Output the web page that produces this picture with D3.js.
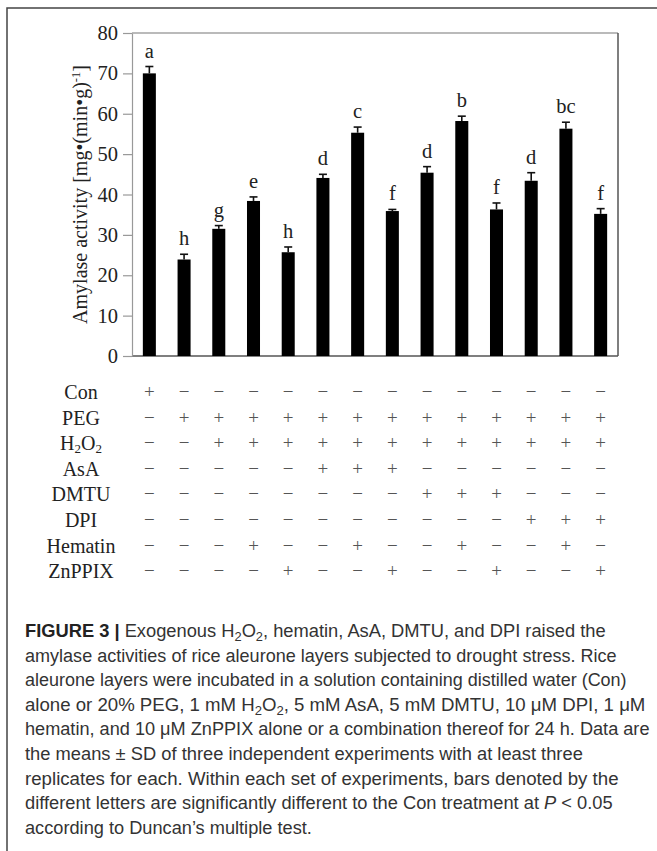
<!DOCTYPE html>
<html><head><meta charset="utf-8">
<script src="https://cdn.jsdelivr.net/npm/d3@7"></script>
<style>body{margin:0;background:#fff}svg{display:block}</style>
</head><body>
<svg id="c" width="657" height="851"></svg>
<script>
// ---- data ----
const treatments = ["T1","T2","T3","T4","T5","T6","T7","T8","T9","T10","T11","T12","T13","T14"];
const means = [70.0, 23.9, 31.5, 38.4, 25.7, 44.1, 55.3, 35.9, 45.4, 58.2, 36.3, 43.4, 56.3, 35.2];
const sds   = [1.7, 1.3, 0.8, 1.0, 1.3, 0.9, 1.4, 0.4, 1.5, 1.2, 1.6, 2.0, 1.6, 1.3];
const letters = ["a","h","g","e","h","d","c","f","d","b","f","d","bc","f"];
const yTicks = [0,10,20,30,40,50,60,70,80];
const factorNames = ["Con","PEG","H2O2","AsA","DMTU","DPI","Hematin","ZnPPIX"];
const factorRows = [
  "+-------------",
  "-+++++++++++++",
  "--++++++++++++",
  "-----+++------",
  "--------+++---",
  "-----------+++",
  "---+--+--+--+-",
  "----+--+--+--+"
];
const captionLines = [
  [["FIGURE 3 | ","b"],["Exogenous H",""],["2","sub"],["O",""],["2","sub"],[", hematin, AsA, DMTU, and DPI raised the",""]],
  [["amylase activities of rice aleurone layers subjected to drought stress. Rice",""]],
  [["aleurone layers were incubated in a solution containing distilled water (Con)",""]],
  [["alone or 20% PEG, 1 mM H",""],["2","sub"],["O",""],["2","sub"],[", 5 mM AsA, 5 mM DMTU, 10 \u03bcM DPI, 1 \u03bcM",""]],
  [["hematin, and 10 \u03bcM ZnPPIX alone or a combination thereof for 24 h. Data are",""]],
  [["the means \u00b1 SD of three independent experiments with at least three",""]],
  [["replicates for each. Within each set of experiments, bars denoted by the",""]],
  [["different letters are significantly different to the Con treatment at ",""],["P","i"],[" < 0.05",""]],
  [["according to Duncan\u2019s multiple test.",""]]
];
const captionEnds = [606, 617, 627, 646, 650, 583, 619, 613, 312];

// ---- layout ----
const svg = d3.select("#c");
const serif = "'Liberation Serif','Times New Roman',serif";
const L = 132, R = 618, T = 33, B = 356;

// outer frame
svg.append("path").attr("d","M7,851 V8 H657").attr("fill","none").attr("stroke","#444").attr("stroke-width",1.5);

const x = d3.scaleBand().domain(treatments).range([L,R]).paddingInner(0.625).paddingOuter(0.3125);
const y = d3.scaleLinear().domain([0,80]).range([B,T]);

// plot box
svg.append("line").attr("x1",L).attr("x2",R).attr("y1",T).attr("y2",T).attr("stroke","#777").attr("stroke-width",1.2);
svg.append("line").attr("x1",R).attr("x2",R).attr("y1",T).attr("y2",B).attr("stroke","#555").attr("stroke-width",1.5);
svg.append("line").attr("x1",L).attr("x2",R).attr("y1",B).attr("y2",B).attr("stroke","#555").attr("stroke-width",1.5);

// y axis
const ya = svg.append("g").attr("transform",`translate(${L},0)`)
  .call(d3.axisLeft(y).tickValues(yTicks).tickSize(9).tickSizeOuter(0).tickPadding(5));
ya.select(".domain").attr("stroke","#999").attr("stroke-width",1.2);
ya.selectAll(".tick line").attr("stroke","#999").attr("stroke-width",1.2);
ya.selectAll(".tick text").attr("font-family",serif).attr("font-size",20.5).attr("fill","#222");

// y title
const yt = svg.append("text").attr("transform",`translate(87,${(T+B)/2}) rotate(-90)`)
  .attr("text-anchor","middle").attr("font-family",serif).attr("font-size",20).attr("fill","#222");
yt.append("tspan").text("Amylase activity [mg\u2022(min\u2022g)");
yt.append("tspan").attr("font-size",12.5).attr("dy",-7).text("-1");
yt.append("tspan").attr("dy",7).text("]");

// bars
const data = treatments.map((t,i)=>({t, m:means[i], sd:sds[i], l:letters[i]}));
svg.append("g").selectAll("rect").data(data).join("rect")
  .attr("x",d=>x(d.t)).attr("width",x.bandwidth())
  .attr("y",d=>y(d.m)).attr("height",d=>y(0)-y(d.m)).attr("fill","#000");

// error bars
const eb = svg.append("g").attr("stroke","#111").attr("stroke-width",1.6);
data.forEach(d=>{
  const cx = x(d.t)+x.bandwidth()/2;
  eb.append("line").attr("x1",cx).attr("x2",cx).attr("y1",y(d.m)).attr("y2",y(d.m+d.sd));
  eb.append("line").attr("x1",cx-4).attr("x2",cx+4).attr("y1",y(d.m+d.sd)).attr("y2",y(d.m+d.sd));
});

// letters
svg.append("g").selectAll("text").data(data).join("text")
  .attr("x",d=>x(d.t)+x.bandwidth()/2).attr("y",d=>y(d.m+d.sd)-9)
  .attr("text-anchor","middle").attr("font-family",serif).attr("font-size",20.5).attr("fill","#222")
  .text(d=>d.l);

// treatment table
const row0 = 399, rowStep = 25.6;
factorNames.forEach((name,r)=>{
  const ty = row0 + r*rowStep;
  const t = svg.append("text").attr("x",81).attr("y",ty).attr("text-anchor","middle")
    .attr("font-family",serif).attr("font-size",20).attr("fill","#222");
  if(name==="H2O2"){
    t.append("tspan").text("H");
    t.append("tspan").attr("font-size",13).attr("dy",3).text("2");
    t.append("tspan").attr("dy",-3).text("O");
    t.append("tspan").attr("font-size",13).attr("dy",3).text("2");
  } else t.text(name);
  factorRows[r].split("").forEach((c,i)=>{
    svg.append("text").attr("x",x(treatments[i])+x.bandwidth()/2).attr("y",ty-1)
      .attr("text-anchor","middle").attr("font-family",serif).attr("font-size",19).attr("fill","#555")
      .text(c==="+"?"+":"\u2212");
  });
});

// caption
const sans = "'Liberation Sans',Arial,sans-serif";
captionLines.forEach((segs,i)=>{
  const by = 637 + i*24.6;
  const g = svg.append("g");
  const t = g.append("text").attr("x",0).attr("y",0).attr("font-family",sans).attr("font-size",18.5).attr("fill","#333");
  let shifted = false;
  segs.forEach(([s,st])=>{
    const ts = t.append("tspan").text(s);
    if(st==="b"){ ts.attr("font-weight","bold").attr("fill","#222"); }
    if(st==="i"){ ts.attr("font-style","italic"); }
    if(st==="sub"){ ts.attr("font-size",13).attr("dy",4); shifted=true; }
    else if(shifted){ ts.attr("dy",-4); shifted=false; }
  });
  const w = t.node().getComputedTextLength();
  const k = (captionEnds[i]-25)/w;
  g.attr("transform",`translate(25,${by}) scale(${k},1)`);
});
</script>
</body></html>
